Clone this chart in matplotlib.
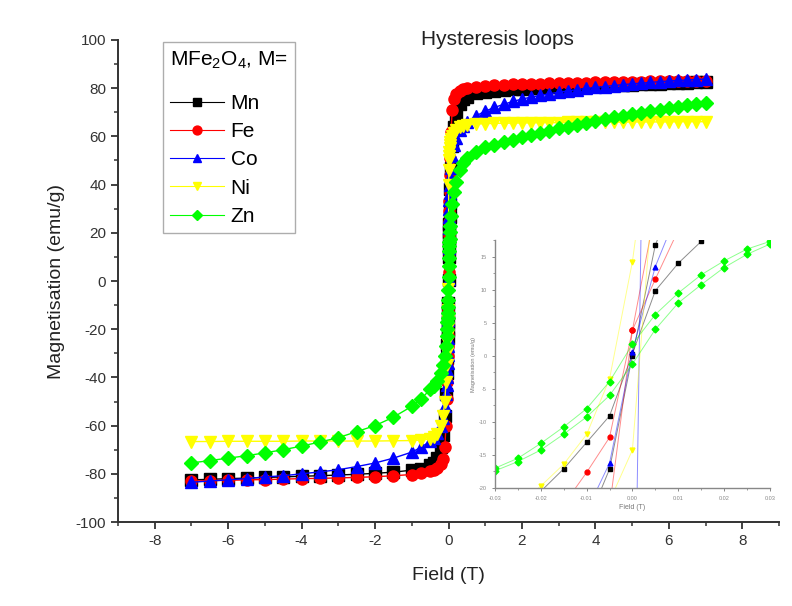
import numpy as np
import matplotlib
matplotlib.use("Agg")
import matplotlib.pyplot as plt
from matplotlib.ticker import MultipleLocator

plt.rcParams['font.family'] = ['Liberation Sans', 'DejaVu Sans']
plt.rcParams['mathtext.default'] = 'regular'
plt.rcParams['axes.unicode_minus'] = False

# field grid of the main loop (T): coarse, fine near zero, coarse
field_neg = [-7, -6.5, -6, -5.5, -5, -4.5, -4, -3.5, -3, -2.5, -2, -1.5, -1, -0.75,
             -0.5, -0.4, -0.3, -0.2, -0.15, -0.1, -0.07, -0.05, -0.04]
field_fine = [-0.03, -0.025, -0.02, -0.015, -0.01, -0.005, 0, 0.005, 0.01, 0.015, 0.02, 0.025, 0.03]
field_pos = [0.04, 0.05, 0.07, 0.1, 0.15, 0.2, 0.3, 0.4, 0.5, 0.75,
             1, 1.25, 1.5, 1.75, 2, 2.25, 2.5, 2.75, 3, 3.25, 3.5, 3.75, 4, 4.25, 4.5,
             4.75, 5, 5.25, 5.5, 5.75, 6, 6.25, 6.5, 6.75, 7]

# magnetisation (emu/g) on that grid
mn_neg = [-82.5, -82.3, -82.0, -81.8, -81.5, -81.3, -81.0, -80.8, -80.5, -80.2, -79.8, -79.3,
          -78.5, -77.8, -76.5, -75.5, -73.5, -69.0, -64.0, -56.0, -47.0, -38.0, -32.0]
mn_fine = [-26.5, -23.5, -20.5, -17.1, -13.1, -9.1, 0.3, 9.85, 14.0, 17.3, 20.5, 23.5, 26.5]
mn_pos = [32, 38, 47, 56, 64, 69, 73.5, 75.5, 76.5, 77.8,
          78.5, 78.9, 79.3, 79.6, 79.8, 80.0, 80.2, 80.4, 80.5, 80.7, 80.8, 81.0, 81.0,
          81.2, 81.3, 81.4, 81.5, 81.6, 81.8, 81.9, 82.0, 82.1, 82.3, 82.4, 82.5]

fe_neg = [-83.0, -82.8, -82.7, -82.5, -82.4, -82.2, -82.0, -81.9, -81.7, -81.5, -81.2, -80.8,
          -80.3, -79.8, -79.0, -78.4, -77.5, -76.0, -74.0, -69.0, -60.0, -49.0, -42.0]
fe_fine = [-35, -31, -27, -22.5, -17.65, -12.35, 3.9, 11.6, 19, 24.5, 29, 33, 37]
fe_pos = [44, 51, 62, 71, 75.5, 77.5, 78.8, 79.5, 80.0, 80.6,
          81.0, 81.2, 81.4, 81.6, 81.7, 81.8, 81.9, 82.0, 82.1, 82.2, 82.3, 82.3, 82.4,
          82.5, 82.5, 82.6, 82.7, 82.7, 82.8, 82.8, 82.9, 82.9, 83.0, 83.0, 83.1]

co_neg = [-83.5, -83.0, -82.5, -82.0, -81.3, -80.8, -80.0, -79.2, -78.3, -77.0, -75.5, -73.5,
          -71.0, -69.0, -66.5, -65.0, -63.0, -60.0, -57.0, -52.0, -47.0, -43.0, -40.0]
co_fine = [-37, -34, -30.5, -27, -23.5, -16.25, 0.65, 13.5, 22, 26.5, 30, 33.5, 36.5]
co_pos = [40, 43, 47, 52, 56.5, 59.5, 62.5, 64.5, 66.0, 68.5,
          70.5, 72.0, 73.3, 74.5, 75.5, 76.3, 77.0, 77.7, 78.3, 78.9, 79.4, 79.9, 80.3,
          80.7, 81.1, 81.5, 81.8, 82.1, 82.4, 82.7, 83.0, 83.2, 83.4, 83.6, 83.8]

ni_neg = [-66.6, -66.6, -66.5, -66.5, -66.5, -66.5, -66.4, -66.4, -66.4, -66.4, -66.4, -66.3,
          -66.2, -66.0, -65.5, -64.8, -63.5, -60.0, -56.0, -50.0, -42.0, -35.0, -30.0]
ni_fine = [-25.5, -22.5, -19.7, -16.4, -11.9, -3.5, 14.25, 40, 46, 50, 52, 53.5, 55]
ni_pos = [56.5, 57.5, 59, 60, 61.5, 62.5, 63.8, 64.3, 64.7, 65.1,
          65.3, 65.4, 65.5, 65.5, 65.6, 65.6, 65.7, 65.7, 65.7, 65.8, 65.8, 65.8, 65.9,
          65.9, 65.9, 65.9, 66.0, 66.0, 66.0, 66.0, 66.0, 66.1, 66.1, 66.1, 66.1]

zn_neg = [-75.5, -74.5, -73.5, -72.5, -71.3, -70.0, -68.5, -66.8, -65.0, -62.5, -60.0, -56.5,
          -52.0, -49.0, -45.0, -43.5, -41.5, -38.0, -35.0, -31.0, -27.0, -23.0, -20.0]
zn_fine = [-17.0, -15.5, -13.25, -10.75, -8.0, -3.9, 1.75, 6.25, 9.5, 12.25, 14.35, 16.15, 17.3]
zn_pos = [20.5, 23, 27, 32, 37, 41, 46, 49, 51, 53.5,
          55.5, 56.5, 57.5, 58.5, 59.6, 60.6, 61.5, 62.4, 63.3, 64.1, 64.9, 65.7, 66.5,
          67.2, 67.9, 68.6, 69.3, 69.9, 70.5, 71.1, 71.7, 72.3, 72.9, 73.4, 74.0]

# second branch of each loop, only seen in the inset
mn_b_field = [-0.015, -0.01, -0.005, 0, 0.005, 0.01, 0.015]
mn_b = [-34, -25.5, -17.15, 0, 16.75, 25.5, 34]
fe_b_field = [-0.01, -0.005, 0, 0.005, 0.01]
fe_b = [-42, -23, 3.9, 22, 40]
co_b_field = [0.0, 0.001, 0.002, 0.003]
co_b = [-40, -22, 24, 40]
ni_b_field = [-0.01, -0.005, 0, 0.005, 0.01]
ni_b = [-30, -22, -14.25, 29, 40]
zn_b_field = field_fine
zn_b = [-17.4, -16.0, -14.25, -11.85, -9.25, -6.0, -1.25, 4.0, 8.0, 10.75, 13.35, 15.35, 16.9]

labels = ['Mn', 'Fe', 'Co', 'Ni', 'Zn']
colors = ['black', 'red', 'blue', '#ffff00', '#00ff00']
markers = ['s', 'o', '^', 'v', 'D']

field = field_neg + field_fine + field_pos
series = [mn_neg + mn_fine + mn_pos, fe_neg + fe_fine + fe_pos, co_neg + co_fine + co_pos,
          ni_neg + ni_fine + ni_pos, zn_neg + zn_fine + zn_pos]
branch_b = [(mn_b_field, mn_b), (fe_b_field, fe_b), (co_b_field, co_b),
            (ni_b_field, ni_b), (zn_b_field, zn_b)]

fig = plt.figure(figsize=(7.92, 6.06), dpi=100)
ax = fig.add_axes([0.149, 0.1386, 0.8346, 0.7954])

for m, lab, c, mk in zip(series, labels, colors, markers):
    ms = 7 if mk == 'D' else 8
    ax.plot(field, m, color=c, marker=mk, markersize=ms, lw=1, label=lab)

ax.set_xlim(-9, 9)
ax.set_ylim(-100, 100)
ax.xaxis.set_major_locator(MultipleLocator(2))
ax.xaxis.set_minor_locator(MultipleLocator(1))
ax.yaxis.set_major_locator(MultipleLocator(20))
ax.yaxis.set_minor_locator(MultipleLocator(10))
for s in ['top', 'right']:
    ax.spines[s].set_visible(False)
for s in ['left', 'bottom']:
    ax.spines[s].set_linewidth(1.4)
    ax.spines[s].set_color('#333333')
ax.tick_params(which='major', direction='out', length=5, width=1.3, labelsize=11, colors='#333333')
ax.tick_params(which='minor', direction='out', length=3, width=1.1, colors='#333333')
ax.set_xlabel('Field (T)', fontsize=14, color='#222222', labelpad=14)
ax.set_ylabel('Magnetisation (emu/g)', fontsize=14, color='#222222', labelpad=8)

fig.text(0.6275, 0.934, 'Hysteresis loops', fontsize=15, color='#222222', ha='center', va='center')

leg = ax.legend(title='MFe$_2$O$_4$, M=', loc='upper left', bbox_to_anchor=(0.068, 0.996),
                borderaxespad=0, fontsize=15, title_fontsize=15, frameon=True, fancybox=False,
                edgecolor='#999999', handlelength=2.6, handletextpad=0.3,
                labelspacing=0.44, borderpad=0.35, markerscale=0.8)
leg.get_frame().set_linewidth(1.0)
leg._legend_box.align = 'left'
leg._legend_box.sep = 17
for h in leg.legend_handles:
    h.set_linewidth(0.8)

# inset zoom around zero field
ins = fig.add_axes([0.625, 0.1947, 0.347, 0.409])
ins.patch.set_alpha(0)
for (m, lab, c, mk), (bf, bm) in zip(zip(series, labels, colors, markers), branch_b):
    ins.plot(field, m, color=c, lw=0.7, alpha=0.45)
    ins.plot(field, m, color=c, marker=mk, markersize=3.5, lw=0)
    ins.plot(bf, bm, color=c, lw=0.7, alpha=0.45)
    ins.plot(bf, bm, color=c, marker=mk, markersize=3.5, lw=0)
ins.set_xlim(-0.03, 0.03)
ins.set_ylim(-20, 17.5)
ins.xaxis.set_major_locator(MultipleLocator(0.01))
ins.xaxis.set_minor_locator(MultipleLocator(0.005))
ins.yaxis.set_major_locator(MultipleLocator(5))
ins.yaxis.set_minor_locator(MultipleLocator(2.5))
ins.xaxis.set_major_formatter(matplotlib.ticker.FormatStrFormatter('%.2f'))
for s in ['top', 'right']:
    ins.spines[s].set_visible(False)
for s in ['left', 'bottom']:
    ins.spines[s].set_color('#888888')
    ins.spines[s].set_linewidth(1.0)
ins.tick_params(which='major', direction='out', length=2.5, width=0.7, labelsize=4, colors='#888888')
ins.tick_params(which='minor', direction='out', length=1.5, width=0.6, colors='#888888')
ins.set_xlabel('Field (T)', fontsize=5, color='#777777', labelpad=2)
ins.set_ylabel('Magnetisation (emu/g)', fontsize=4, color='#777777', labelpad=2)

fig.savefig('out.png', dpi=100)
